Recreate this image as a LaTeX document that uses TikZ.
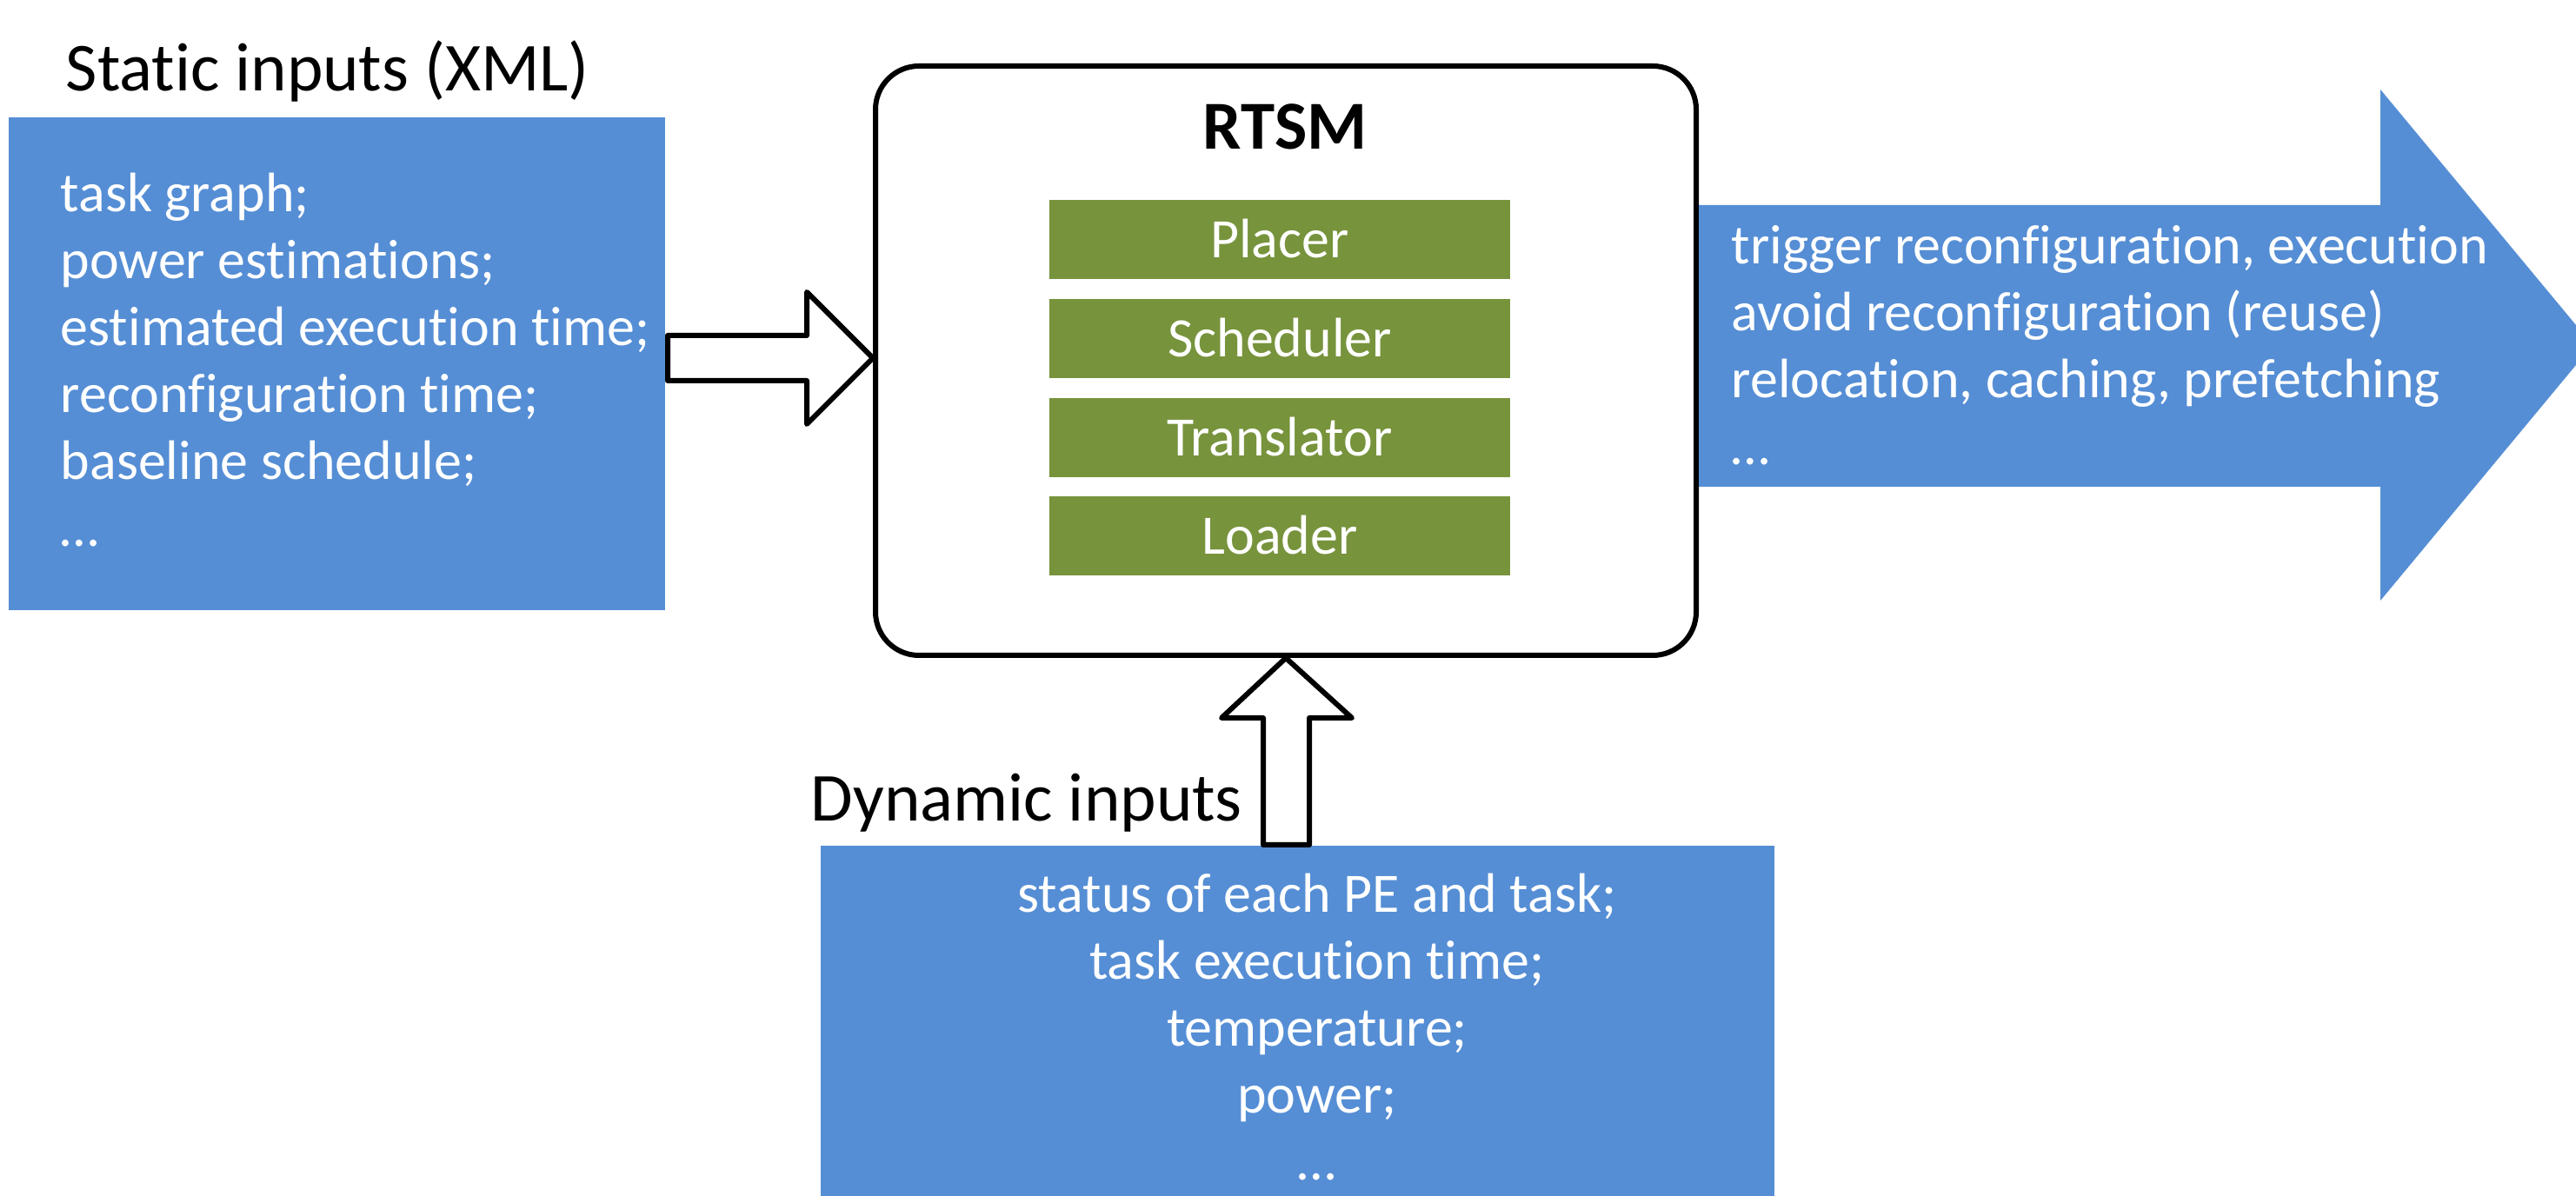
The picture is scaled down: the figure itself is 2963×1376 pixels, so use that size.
\documentclass[tikz,border=0pt]{standalone}
\usepackage{fontspec}
\setmainfont[Ligatures=NoCommon]{Carlito}
\definecolor{boxblue}{HTML}{558ED5}
\definecolor{modgreen}{HTML}{77933C}
\tikzset{
  bluebox/.style={fill=boxblue, draw=none, inner sep=0pt, anchor=north west},
  modbox/.style={fill=modgreen, draw=none, inner sep=0pt, minimum width=132.5pt,
    minimum height=22.75pt, text=white, font=\fontsize{16}{19.25}\selectfont,
    text height=10.3pt, text depth=0pt},
  bodytext/.style={text=white, inner sep=0pt, font=\fontsize{16}{19.25}\selectfont},
  titletext/.style={text=black, inner sep=0pt, font=\fontsize{19.75}{23}\selectfont},
  blockarrow/.style={draw=black, fill=white, line width=1.5pt, line join=round},
}
\begin{document}
\begin{tikzpicture}[x=0.25pt, y=-0.25pt]
  \path[use as bounding box] (0,0) rectangle (2963,1376);
  \clip (0,0) rectangle (2963,1376);

  % static inputs (text block anchored at the baseline of its last line)
  \node[titletext, anchor=base west] (stitle) at (75,105) {Static inputs (XML)};
  \node[bluebox, minimum width=188.75pt, minimum height=141.75pt] (sin) at (9,134) {};
  \node[bodytext, anchor=base west, align=left] (stext) at (69,629)
    {task graph;\\power estimations;\\estimated execution time;\\reconfiguration time;\\baseline schedule;\\\ldots};

  % run-time system manager with its modules
  \node[draw=black, line width=1.5pt, rounded corners=12.5pt, fill=white, inner sep=0pt,
        minimum width=236pt, minimum height=169.5pt, anchor=north west] (rtsm) at (1004,73) {};
  \node[titletext, font=\fontsize{19.75}{23}\selectfont\bfseries, anchor=base] (rtitle) at (1478,172) {RTSM};
  \node[modbox] (placer) at (1472,275.5) {Placer};
  \node[modbox] (sched) at (1472,390) {Scheduler};
  \node[modbox] (transl) at (1472,504) {Translator};
  \node[modbox] (loader) at (1472,617) {Loader};

  % static inputs feed the manager
  \coordinate (inTail) at (768,412);
  \path (rtsm.west |- inTail) coordinate (inTip);
  \draw[blockarrow] (inTail |- 0,386) -- (928,386) -- (928,336) -- (inTip)
    -- (928,488) -- (928,438) -- (inTail |- 0,438) -- cycle;

  % outputs
  \coordinate (outTip) at (2982,397);
  \fill[boxblue] (rtsm.east |- 0,236) -- (2738,236) -- (2738,103) -- (outTip)
    -- (2738,691) -- (2738,560) -- (rtsm.east |- 0,560) -- cycle;
  \node[bodytext, anchor=base west, align=left] (otext) at (1991,535)
    {trigger reconfiguration, execution\\avoid reconfiguration (reuse)\\relocation, caching, prefetching\\\ldots};

  % dynamic inputs
  \node[bluebox, minimum width=274.25pt, minimum height=102pt] (din) at (943,972) {};
  \node[titletext, anchor=base west] (dtitle) at (932,945) {Dynamic inputs};
  \node[bodytext, anchor=base, align=center] (dtext) at (1515,1357)
    {status of each PE and task;\\task execution time;\\temperature;\\power;\\\ldots};
  \draw[blockarrow] (1453,972) -- (1453,826) -- (1405,826) -- (rtsm.south)
    -- (1555,826) -- (1506,826) -- (1506,972) -- cycle;
\end{tikzpicture}
\end{document}
